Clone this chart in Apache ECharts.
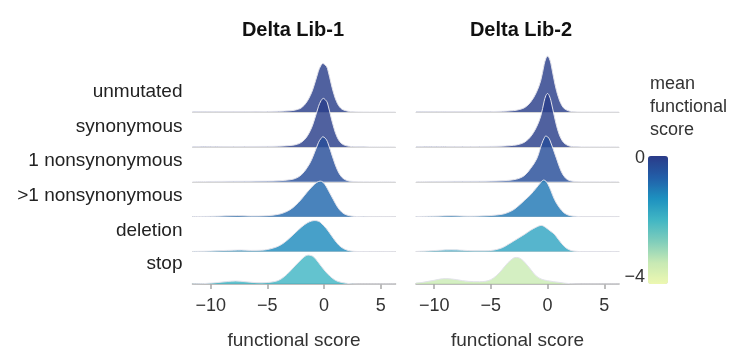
<!DOCTYPE html>
<html>
<head>
<meta charset="utf-8">
<script src="https://cdn.jsdelivr.net/npm/echarts@6/dist/echarts.min.js"></script>
<style>
  html, body { margin: 0; padding: 0; background: #fff; }
  #chart { width: 737px; height: 351px; }
</style>
</head>
<body>
<div id="chart"></div>
<script>
// Variant classes (one ridge per row, top to bottom)
const rowNames = ['unmutated', 'synonymous', '1 nonsynonymous', '>1 nonsynonymous', 'deletion', 'stop'];
const libraries = ['Delta Lib-1', 'Delta Lib-2'];

// Mean functional score per class, used for the ridge colour
const meanLib1 = [-0.05, -0.05, -0.35, -0.8, -1.25, -2.0];
const meanLib2 = [-0.05, -0.05, -0.35, -1.0, -1.7, -3.4];

// Density curves: [functional score, density] (density in row heights)
const lib1Unmutated = [[-11.6,0.005],[-9,0.01],[-7,0.01],[-5,0.015],[-4,0.02],[-3,0.035],[-2.5,0.06],[-2,0.12],[-1.5,0.3],[-1,0.64],[-0.5,1.17],[-0.3,1.32],[-0.1,1.39],[0.1,1.35],[0.3,1.25],[0.7,0.71],[1.1,0.3],[1.5,0.1],[2,0.03],[2.5,0.01],[3,0.003],[4,0],[6.3,0]];
const lib1Synonymous = [[-11.6,0.005],[-9,0.01],[-7,0.012],[-5,0.015],[-4,0.02],[-3,0.04],[-2.5,0.065],[-2,0.13],[-1.5,0.3],[-1,0.63],[-0.5,1.15],[-0.26,1.33],[-0.06,1.39],[0.14,1.34],[0.3,1.26],[0.7,0.74],[1.1,0.32],[1.5,0.11],[2,0.03],[2.5,0.01],[3,0.003],[4,0],[6.3,0]];
const lib1Nonsyn1 = [[-11.6,0.005],[-9,0.012],[-7,0.015],[-5,0.02],[-4,0.03],[-3,0.06],[-2.5,0.1],[-2,0.2],[-1.5,0.4],[-1.08,0.645],[-0.5,1.12],[-0.3,1.23],[-0.1,1.29],[0.1,1.25],[0.3,1.15],[0.82,0.645],[1.2,0.32],[1.6,0.12],[2,0.04],[2.5,0.012],[3,0.003],[4,0],[6.3,0]];
const lib1NonsynMulti = [[-11.6,0.005],[-10,0.01],[-9,0.02],[-7.6,0.035],[-6.5,0.02],[-5,0.03],[-4,0.07],[-3.5,0.12],[-3,0.2],[-2.5,0.33],[-2,0.5],[-1.5,0.7],[-1,0.88],[-0.65,0.98],[-0.35,1.02],[-0.1,0.99],[0.2,0.86],[0.4,0.74],[0.8,0.5],[1.2,0.27],[1.6,0.12],[2,0.05],[2.5,0.015],[3,0.004],[4,0],[6.3,0]];
const lib1Deletion = [[-11.6,0.005],[-10,0.015],[-9,0.03],[-8,0.04],[-7.3,0.045],[-6.5,0.035],[-5.5,0.04],[-5,0.06],[-4.5,0.1],[-4,0.16],[-3.5,0.26],[-3,0.4],[-2.5,0.55],[-2,0.7],[-1.5,0.82],[-1.1,0.875],[-0.8,0.89],[-0.5,0.87],[-0.3,0.83],[0.2,0.66],[0.68,0.445],[1.1,0.26],[1.5,0.13],[2,0.045],[2.5,0.012],[3,0.003],[4,0],[6.3,0]];
const lib1Stop = [[-11.6,0.005],[-10.5,0.015],[-9.5,0.04],[-8.5,0.075],[-7.8,0.09],[-7,0.07],[-6,0.04],[-5.5,0.035],[-5,0.045],[-4.5,0.065],[-4,0.11],[-3.5,0.22],[-3,0.38],[-2.5,0.56],[-2,0.73],[-1.7,0.82],[-1.4,0.86],[-1.1,0.84],[-0.9,0.8],[-0.5,0.64],[0,0.42],[0.5,0.24],[1,0.11],[1.5,0.05],[2,0.02],[2.5,0.005],[3,0],[6.3,0]];

const lib2Unmutated = [[-11.6,0.005],[-9,0.01],[-6,0.01],[-4,0.02],[-3,0.04],[-2.5,0.07],[-2,0.13],[-1.5,0.28],[-1,0.55],[-0.6,0.9],[-0.3,1.36],[-0.15,1.53],[0,1.6],[0.15,1.54],[0.3,1.38],[0.65,0.8],[1,0.38],[1.4,0.12],[1.8,0.04],[2.2,0.01],[3,0],[6.3,0]];
const lib2Synonymous = [[-11.6,0.005],[-9,0.01],[-6,0.012],[-4,0.022],[-3,0.045],[-2.5,0.075],[-2,0.14],[-1.5,0.29],[-1,0.55],[-0.6,0.88],[-0.3,1.31],[-0.15,1.47],[0,1.53],[0.15,1.47],[0.3,1.32],[0.65,0.8],[1,0.38],[1.4,0.13],[1.8,0.04],[2.2,0.01],[3,0],[6.3,0]];
const lib2Nonsyn1 = [[-11.6,0.005],[-9,0.012],[-6,0.015],[-4,0.03],[-3,0.06],[-2.5,0.1],[-2,0.19],[-1.5,0.38],[-0.96,0.655],[-0.5,1.1],[-0.3,1.25],[-0.17,1.31],[0,1.29],[0.2,1.2],[0.8,0.655],[1.2,0.3],[1.6,0.1],[2,0.03],[2.5,0.008],[3,0],[6.3,0]];
const lib2NonsynMulti = [[-11.6,0.005],[-10,0.015],[-8.5,0.03],[-7,0.015],[-6,0.02],[-5,0.035],[-4,0.07],[-3.5,0.12],[-3,0.2],[-2.5,0.33],[-2,0.48],[-1.5,0.63],[-1,0.82],[-0.6,0.98],[-0.35,1.05],[-0.15,1.02],[0.05,0.92],[0.3,0.74],[0.6,0.5],[1,0.28],[1.5,0.1],[2,0.03],[2.5,0.01],[3,0],[6.3,0]];
const lib2Deletion = [[-11.6,0.005],[-10.5,0.02],[-9.5,0.04],[-8.5,0.05],[-7.5,0.04],[-6.5,0.025],[-5.5,0.025],[-4.7,0.045],[-4,0.11],[-3.5,0.2],[-3,0.3],[-2.5,0.4],[-2,0.5],[-1.5,0.61],[-1,0.7],[-0.55,0.75],[-0.2,0.7],[0.2,0.6],[0.6,0.5],[1,0.33],[1.5,0.14],[2,0.04],[2.5,0.01],[3,0],[6.3,0]];
const lib2Stop = [[-11.6,0.03],[-11,0.05],[-10.5,0.08],[-10,0.11],[-9.5,0.145],[-9,0.16],[-8.5,0.15],[-8,0.13],[-7.5,0.1],[-7,0.08],[-6.5,0.07],[-6,0.07],[-5.5,0.08],[-5,0.13],[-4.5,0.25],[-4,0.43],[-3.5,0.63],[-3,0.77],[-2.75,0.79],[-2.4,0.76],[-2,0.64],[-1.5,0.44],[-1,0.24],[-0.5,0.14],[0,0.1],[0.5,0.07],[1,0.05],[1.5,0.025],[2,0.01],[3,0],[6.3,0]];

const densities = [
  [lib1Unmutated, lib1Synonymous, lib1Nonsyn1, lib1NonsynMulti, lib1Deletion, lib1Stop],
  [lib2Unmutated, lib2Synonymous, lib2Nonsyn1, lib2NonsynMulti, lib2Deletion, lib2Stop]
];
const means = [meanLib1, meanLib2];

// Axis ticks and colour scale
const xTicks = [-10, -5, 0, 5];
const xMin = -11.6, xMax = 6.3;
const colorMin = -4, colorMax = 0;
const colorStops = ['#edf8b1', '#c7e9b4', '#7fcdbb', '#41b6c4', '#1d91c0', '#225ea8', '#2a3b88'];

// Layout
const FONT = '"Liberation Sans", Arial, Helvetica, sans-serif';
const panelLeft = [192.5, 416];
const panelWidth = 203;
const titleCenter = [293, 521];
const titlePad = 5;
const firstBaseline = 112;
const rowGap = 34.9;
const rowSpan = 2;          // each ridge grid spans two rows so peaks can overlap the row above
const fillOpacity = 0.82;

const minus = v => (v < 0 ? '\u2212' + Math.abs(v) : String(v));

function scoreColor(v) {
  const t = Math.max(0, Math.min(1, (v - colorMin) / (colorMax - colorMin)));
  return echarts.color.lerp(t, colorStops);
}

const grids = [], xAxes = [], yAxes = [], series = [];
let k = 0;
for (let p = 0; p < libraries.length; p++) {
  for (let r = 0; r < rowNames.length; r++) {
    const baseline = firstBaseline + r * rowGap;
    const isBottom = r === rowNames.length - 1;
    grids.push({
      left: panelLeft[p], width: panelWidth,
      top: baseline - rowSpan * rowGap, height: rowSpan * rowGap,
      containLabel: false
    });
    xAxes.push({
      gridIndex: k, type: 'value', min: xMin, max: xMax,
      splitLine: { show: false },
      axisLine: { show: true, onZero: false, lineStyle: { color: isBottom ? '#a8a8a8' : '#d6d6d6', width: isBottom ? 1.5 : 1 } },
      axisTick: isBottom
        ? { show: true, customValues: xTicks, length: 5, lineStyle: { color: '#a8a8a8', width: 1.5 } }
        : { show: false },
      axisLabel: isBottom
        ? { show: true, customValues: xTicks, formatter: minus, margin: 13, fontSize: 18, color: '#333', fontFamily: FONT }
        : { show: false },
      name: isBottom ? 'functional score' : '',
      nameLocation: 'middle', nameGap: 47,
      nameTextStyle: { fontSize: 19, color: '#333', fontFamily: FONT }
    });
    yAxes.push({
      gridIndex: k, type: 'value', min: 0, max: rowSpan,
      splitLine: { show: false }, axisLine: { show: false }, axisTick: { show: false },
      axisLabel: p === 0
        ? { show: true, customValues: [0.59], formatter: () => rowNames[r], margin: 10, fontSize: 19, color: '#222', fontFamily: FONT }
        : { show: false }
    });
    const col = scoreColor(means[p][r]);
    series.push({
      type: 'line', xAxisIndex: k, yAxisIndex: k,
      data: densities[p][r],
      smooth: 0.35, symbol: 'none', silent: true,
      lineStyle: { color: '#e2e2ea', width: 1 },
      areaStyle: { color: col, opacity: fillOpacity }
    });
    k++;
  }
}

// Empty series that drives the colour bar
series.push({ type: 'scatter', xAxisIndex: 0, yAxisIndex: 0, data: [], silent: true });

const chart = echarts.init(document.getElementById('chart'), null, { renderer: 'canvas' });
chart.setOption({
  animation: false,
  backgroundColor: '#fff',
  textStyle: { fontFamily: FONT },
  title: libraries.map((t, p) => ({
    text: t,
    left: titleCenter[p] - titlePad,
    textAlign: 'center',
    top: 15,
    textStyle: { fontSize: 20, fontWeight: 'bold', color: '#111', fontFamily: FONT }
  })),
  grid: grids,
  xAxis: xAxes,
  yAxis: yAxes,
  series: series,
  visualMap: {
    type: 'continuous',
    seriesIndex: series.length - 1,
    min: colorMin, max: colorMax,
    calculable: false,
    orient: 'vertical',
    left: 648, top: 156,
    itemWidth: 20, itemHeight: 128,
    padding: 0,
    text: null,
    inRange: { color: colorStops }
  },
  graphic: [
    { type: 'text', left: 650, top: 73, silent: true,
      style: { text: 'mean\nfunctional\nscore', font: '18px ' + FONT, fill: '#333', lineHeight: 23 } },
    { type: 'text', right: 737 - 645, top: 149, silent: true,
      style: { text: minus(colorMax), font: '18px ' + FONT, fill: '#333', textAlign: 'right' } },
    { type: 'text', right: 737 - 645, top: 268, silent: true,
      style: { text: minus(colorMin), font: '18px ' + FONT, fill: '#333', textAlign: 'right' } }
  ]
});
</script>
</body>
</html>
